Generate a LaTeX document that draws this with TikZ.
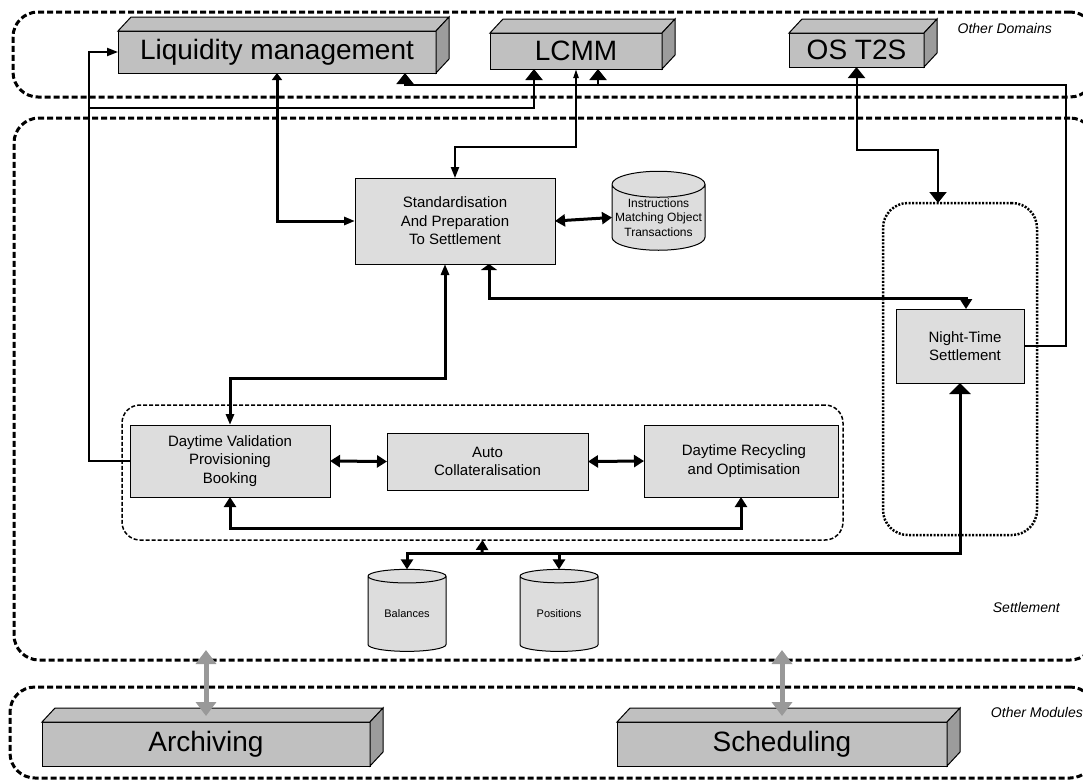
\documentclass[tikz,border=0pt]{standalone}
\usepackage{fontspec}
\setmainfont{Liberation Sans}
\usetikzlibrary{arrows.meta,shapes.geometric}
\definecolor{modgray}{HTML}{C0C0C0}
\definecolor{sidegray}{HTML}{9C9C9C}
\definecolor{procgray}{HTML}{DDDDDD}
\definecolor{linkgray}{HTML}{999999}
\tikzset{
  tipbig/.tip={Triangle[width=17pt,length=11pt]},
  tipwide/.tip={Triangle[width=21pt,length=11pt]},
  tipmid/.tip={Triangle[width=12pt,length=10pt]},
  tipslim/.tip={Triangle[width=8pt,length=11pt]},
  tipthin/.tip={Triangle[width=5pt,length=9pt]},
  tipsmall/.tip={Triangle[width=10pt,length=7pt]},
  tipflat/.tip={Triangle[width=16pt,length=6pt]},
  tipgrey/.tip={Triangle[width=20pt,length=14pt]},
}
\newcommand{\depthbox}[1]{%
  \draw[line width=1pt, fill=modgray] (#1.north west) -- ([shift={(13,-14)}]#1.north west) -- ([shift={(13,-14)}]#1.north east) -- (#1.north east) -- cycle;
  \draw[line width=1pt, fill=sidegray] (#1.north east) -- ([shift={(13,-14)}]#1.north east) -- ([shift={(13,-14)}]#1.south east) -- (#1.south east) -- cycle;}
\begin{document}
\begin{tikzpicture}[x=1pt, y=-1pt,
  outergroup/.style={draw, line width=3pt, dash pattern=on 6pt off 3pt, rounded corners=25pt, inner sep=0pt, outer sep=0pt},
  daygroup/.style={draw, line width=1.5pt, dash pattern=on 4pt off 2pt, rounded corners=18pt, inner sep=0pt, outer sep=0pt},
  nightgroup/.style={draw, line width=2.5pt, dash pattern=on 2pt off 1.5pt, rounded corners=25pt, inner sep=0pt, outer sep=0pt},
  module/.style={draw, fill=modgray, line width=1pt, inner sep=0pt, outer sep=0pt, font=\fontsize{28}{32}\selectfont},
  process/.style={draw, fill=procgray, line width=1pt, inner sep=0pt, outer sep=0pt, align=center, font=\fontsize{15}{18.5}\selectfont},
  store/.style={cylinder, shape border rotate=90, aspect=0.3, draw, fill=procgray, line width=1pt, inner sep=0pt, outer sep=0pt, align=center},
  grouplabel/.style={anchor=east, inner sep=0pt, font=\itshape\fontsize{14}{16}\selectfont},
  conn/.style={line width=2pt},
  heavy/.style={line width=3pt},
  greyarrow/.style={draw=linkgray, line width=5pt, tipgrey-tipgrey, color=linkgray},
]
\useasboundingbox (0,0) rectangle (1083,780);
\clip (0,0) rectangle (1083,780);
\fill[white] (0,0) rectangle (1083,780);

\node[outergroup, minimum width=1082pt, minimum height=85pt] (dom) at (554,54.5) {};
\node[outergroup, minimum width=1081pt, minimum height=542pt] (sett) at (554.5,389) {};
\node[outergroup, minimum width=1085pt, minimum height=91pt] (mods) at (552.5,732.5) {};
\node[daygroup, minimum width=721pt, minimum height=135pt] (dgrp) at (482.5,472.5) {};
\node[nightgroup, minimum width=154pt, minimum height=332pt] (ngrp) at (960,369) {};

\node[grouplabel] (domlbl) at (1052,28) {Other Domains};
\node[grouplabel] (settlbl) at (1060,607) {Settlement};
\node[grouplabel] (modslbl) at (1083,712) {Other Modules};

\node[module, minimum width=318pt, minimum height=42pt] (liq) at (277,52) {Liquidity management};
\depthbox{liq}
\node[module, minimum width=172pt, minimum height=36pt] (lcmm) at (576,51) {LCMM};
\depthbox{lcmm}
\node[module, minimum width=135pt, minimum height=34pt] (os) at (856.5,50) {OS T2S};
\depthbox{os}
\node[module, minimum width=328pt, minimum height=44pt] (arch) at (206,744) {Archiving};
\depthbox{arch}
\node[module, minimum width=330pt, minimum height=44pt] (sched) at (782,744) {Scheduling};
\depthbox{sched}

\node[process, minimum width=200pt, minimum height=86pt] (std) at (455,221) {Standardisation\\And Preparation\\To Settlement};
\node[store, minimum width=93pt, minimum height=79pt, font=\fontsize{12}{14.5}\selectfont] (instr) at (658.5,217.5) {Instructions\\Matching Object\\Transactions};
\node[process, minimum width=128pt, minimum height=74pt] (night) at (960,346) {\hspace*{10pt}Night-Time\\\hspace*{10pt}Settlement};
\node[process, minimum width=200pt, minimum height=72pt] (dval) at (230,461) {Daytime Validation\\Provisioning\\Booking};
\node[process, minimum width=201pt, minimum height=57pt] (auto) at (487.5,461.5) {Auto\\Collateralisation};
\node[process, minimum width=194pt, minimum height=72pt] (recyc) at (741,461) {\hspace*{6pt}Daytime Recycling\\\hspace*{6pt}and Optimisation};
\node[store, minimum width=78pt, minimum height=82pt, font=\fontsize{11}{13}\selectfont] (bal) at (407,614) {Balances};
\node[store, minimum width=78pt, minimum height=82pt, font=\fontsize{11}{13}\selectfont] (pos) at (559,614) {Positions};

\coordinate (jl) at (89,108);
\coordinate (tr) at (1066,85);
\coordinate (jb) at (482,553);
\draw[conn, -tipslim] (dval.west) -- ++(-41,0) |- (liq.west);
\draw[conn, -tipbig] (jl) -| ([xshift=-42pt]lcmm.south);
\draw[heavy, tipsmall-tipslim] (liq.south) |- (std.west);
\draw[conn, tipthin-tipslim] (lcmm.south) -- (lcmm.south |- 0,147) -| (std.north);
\draw[conn, -tipbig] (night.east) -| (tr) -| ([xshift=128pt]liq.south);
\draw[conn, -tipbig] ([xshift=22pt]lcmm.south |- tr) -- ([xshift=22pt]lcmm.south);
\draw[conn, tipbig-tipbig] (os.south) -- ++(0,83) -| ([xshift=-22pt]ngrp.north);
\draw[heavy, tipflat-tipmid] ([xshift=34pt]std.south) -- ++(0,34) -| ([xshift=6pt]night.north);
\draw[heavy, tipslim-tipslim] ([xshift=-10pt]std.south) -- ++(0,114) -| (dval.north);
\draw[heavy, tipmid-tipmid] (std.east) -- (instr.west);
\draw[heavy, tipmid-tipmid] (dval.east) -- (auto.west);
\draw[heavy, tipmid-tipmid] (auto.east) -- (recyc.west);
\draw[heavy, tipmid-tipmid] (dval.south) -- ++(0,31) -| (recyc.south);
\draw[heavy, tipmid-tipmid] (bal.north) |- (jb) -| (pos.north);
\draw[heavy, -tipmid] (jb) -- (dgrp.south);
\draw[heavy, -tipwide] (pos.north |- jb) -| (night.south);
\draw[greyarrow] (arch.north |- 0,650) -- (arch.north |- 0,716);
\draw[greyarrow] (sched.north |- 0,650) -- (sched.north |- 0,716);
\end{tikzpicture}
\end{document}
